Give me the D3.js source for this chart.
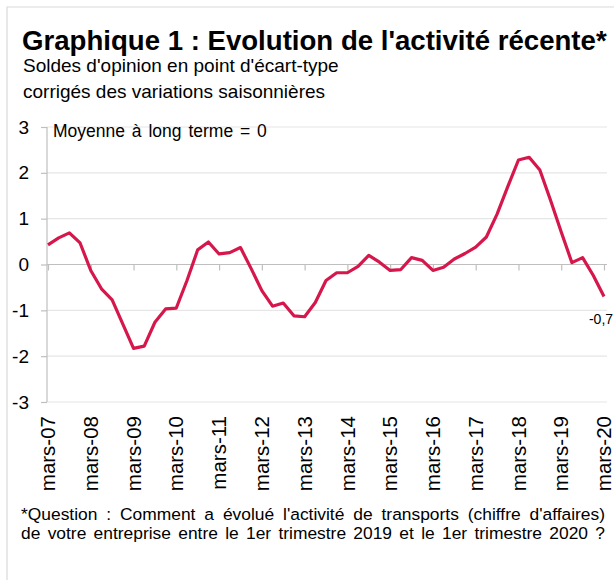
<!DOCTYPE html>
<html>
<head>
<meta charset="utf-8">
<script src="https://cdn.jsdelivr.net/npm/d3@7"></script>
<style>
    body { margin: 0; background: #fff; }
    svg { display: block; font-family: 'Liberation Sans', Arial, sans-serif; }
</style>
</head>
<body>
<svg id="chart"></svg>
<script>
const fullWidth = 614;
const fullHeight = 580;

// trimestres, de mars-07 a mars-20
const years = ['07', '08', '09', '10', '11', '12', '13', '14', '15', '16', '17', '18', '19', '20'];
const tickLabels = years.map(y => `mars-${y}`);

const values = [
    0.43, 0.58, 0.69, 0.47, -0.13, -0.53, -0.77, -1.30,
    -1.83, -1.78, -1.26, -0.97, -0.95, -0.35, 0.32, 0.49,
    0.23, 0.26, 0.37, -0.09, -0.57, -0.91, -0.84, -1.12,
    -1.14, -0.83, -0.35, -0.18, -0.18, -0.04, 0.20, 0.05,
    -0.13, -0.11, 0.15, 0.09, -0.13, -0.06, 0.12, 0.24,
    0.38, 0.60, 1.10, 1.70, 2.28, 2.34, 2.06, 1.40,
    0.71, 0.04, 0.15, -0.24, -0.70
];

const yTicks = [-3, -2, -1, 0, 1, 2, 3];
const lastLabel = '-0,7';

const title = "Graphique 1 : Evolution de l'activité récente*";
const subtitle = ["Soldes d'opinion en point d'écart-type", 'corrigés des variations saisonnières'];
const note = 'Moyenne à long terme = 0';
const footnote = [
    "*Question : Comment a évolué l'activité de transports (chiffre d'affaires)",
    'de votre entreprise entre le 1er trimestre 2019 et le 1er trimestre 2020 ?'
];

const plot = {left: 48, right: 604, top: 127, bottom: 402};
const lineColor = '#d6174b';

const x = d3.scaleLinear()
    .domain([0, values.length - 1])
    .range([plot.left, plot.right]);

const y = d3.scaleLinear()
    .domain([-3, 3])
    .range([plot.bottom, plot.top]);

const svg = d3.select('#chart')
    .attr('width', fullWidth)
    .attr('height', fullHeight);

// cadre
svg.append('path')
    .attr('d', `M7,${fullHeight}V7H${fullWidth}`)
    .attr('fill', 'none')
    .attr('stroke', '#d9d9d9')
    .attr('stroke-width', 1.2);

// titres
svg.append('text')
    .attr('x', 22)
    .attr('y', 50)
    .attr('font-size', 27.6)
    .attr('font-weight', 'bold')
    .text(title);

svg.selectAll('.subtitle').data(subtitle)
    .enter().append('text')
        .attr('class', 'subtitle')
        .attr('x', 23)
        .attr('y', (d, i) => 72 + i * 26)
        .attr('font-size', 19)
        .text(d => d);

// grille
svg.append('g').selectAll('line').data(yTicks.filter(d => d !== 0))
    .enter().append('line')
        .attr('x1', plot.left - 1)
        .attr('x2', plot.right + 3)
        .attr('y1', d => y(d))
        .attr('y2', d => y(d))
        .attr('stroke', '#e6e6e6')
        .attr('stroke-width', 1.2);

// axe vertical
const yAxis = svg.append('g')
    .attr('transform', `translate(${plot.left - 1}, 0)`)
    .call(d3.axisLeft(y).tickValues(yTicks).tickSize(6).tickPadding(12).tickFormat(d3.format('d')));

yAxis.select('.domain').attr('stroke', '#bfbfbf').attr('stroke-width', 1.2)
    .attr('d', `M0,${plot.top}V${plot.bottom}`);
yAxis.selectAll('.tick line').attr('stroke', '#bfbfbf').attr('stroke-width', 1.2);
yAxis.selectAll('.tick text')
    .attr('font-size', 19)
    .attr('font-family', "'Liberation Sans', Arial, sans-serif")
    .attr('fill', '#000')
    .text(d => d < 0 ? `-${Math.abs(d)}` : d);

// axe horizontal sur le zero
const tickIndex = tickLabels.map((d, i) => i * 4);

const xAxis = svg.append('g')
    .attr('transform', `translate(0, ${y(0)})`)
    .call(d3.axisBottom(x).tickValues(tickIndex).tickSize(6).tickFormat(''));

xAxis.select('.domain').attr('stroke', '#bfbfbf').attr('stroke-width', 1.2)
    .attr('d', `M${plot.left - 1},0H${plot.right + 3}`);
xAxis.selectAll('.tick line').attr('stroke', '#bfbfbf').attr('stroke-width', 1.2);

// libelles en bas
svg.append('g').selectAll('text').data(tickLabels)
    .enter().append('text')
        .attr('transform', (d, i) => `translate(${x(tickIndex[i])}, 416) rotate(-90)`)
        .attr('dy', '0.35em')
        .attr('text-anchor', 'end')
        .attr('font-size', 20.5)
        .text(d => d);

// courbe
const line = d3.line()
    .x((d, i) => x(i))
    .y(d => y(d));

svg.append('path')
    .datum(values)
    .attr('d', line)
    .attr('fill', 'none')
    .attr('stroke', lineColor)
    .attr('stroke-width', 3.2)
    .attr('stroke-linejoin', 'round');

svg.append('text')
    .attr('x', x(values.length - 1) - 3)
    .attr('y', y(values[values.length - 1]) + 27)
    .attr('text-anchor', 'middle')
    .attr('font-size', 14)
    .text(lastLabel);

svg.append('text')
    .attr('x', 53)
    .attr('y', 137)
    .attr('font-size', 17.5)
    .attr('word-spacing', 2)
    .text(note);

// note de bas de page, justifiee sur les espaces
const footTexts = svg.selectAll('.footnote').data(footnote)
    .enter().append('text')
        .attr('class', 'footnote')
        .attr('x', 21)
        .attr('y', (d, i) => 520 + i * 19)
        .attr('font-size', 17.4)
        .text(d => d);

footTexts.each(function(d) {
    const target = 584;
    const natural = this.getComputedTextLength();
    const gaps = d.split(' ').length - 1;
    d3.select(this).attr('word-spacing', (target - natural) / gaps);
});
</script>
</body>
</html>
